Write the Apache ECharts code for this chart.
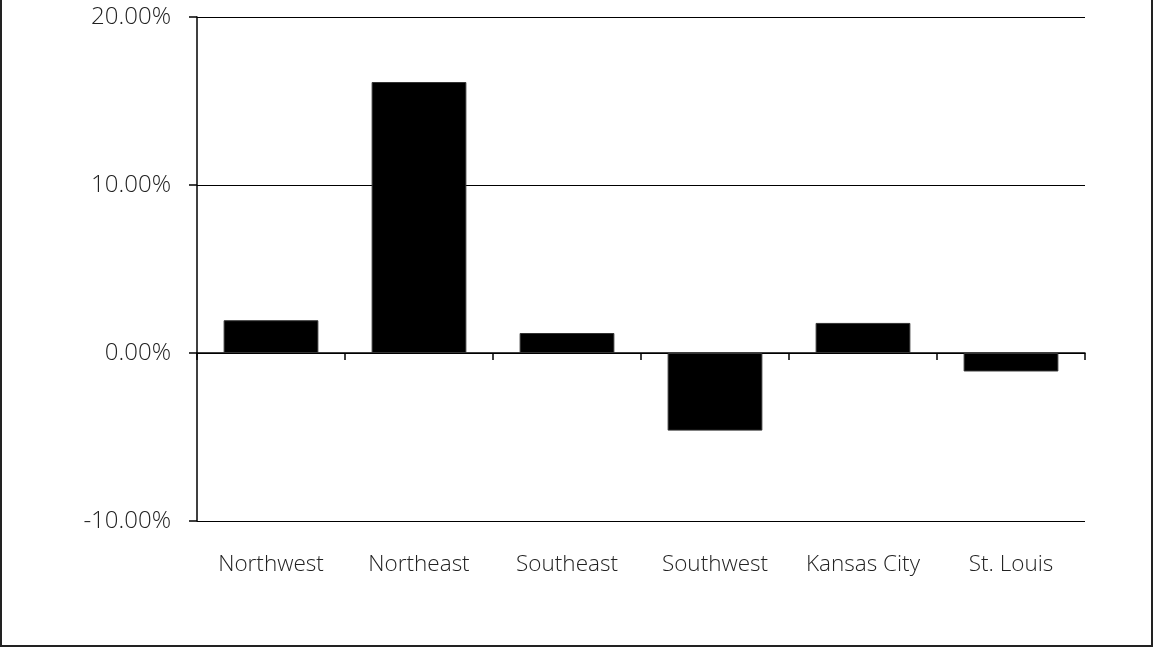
<!DOCTYPE html>
<html>
<head>
<meta charset="utf-8">
<script src="https://cdn.jsdelivr.net/npm/echarts@6/dist/echarts.min.js"></script>
<style>
html,body{margin:0;padding:0;background:#fff;}
#wrap{position:absolute;left:0;top:0;width:1153px;height:647px;box-sizing:border-box;border-left:2px solid #222;border-right:2px solid #222;border-bottom:2px solid #222;}
#chart{position:absolute;left:0;top:0;width:1153px;height:647px;}
</style>
</head>
<body>
<div id="wrap"></div>
<div id="chart"></div>
<script>
const categories = ['Northwest', 'Northeast', 'Southeast', 'Southwest', 'Kansas City', 'St. Louis'];
const values = [1.95, 16.13, 1.19, -4.62, 1.79, -1.10];
const yTicks = { min: -10, max: 20, interval: 10 };

const FONT = '"Open Sans", "DejaVu Sans", sans-serif';
const chart = echarts.init(document.getElementById('chart'));
chart.setOption({
  animation: false,
  backgroundColor: 'transparent',
  grid: { left: 197, right: 68, top: 17, bottom: 126, containLabel: false },
  xAxis: [
    {
      type: 'category', data: categories, position: 'bottom',
      axisLine: { show: false, onZero: false }, axisTick: { show: false },
      axisLabel: { color: '#222', fontSize: 22.5, fontWeight: 300, fontFamily: FONT, margin: 32, interval: 0 }
    },
    {
      type: 'category', data: categories, position: 'top',
      axisLine: { show: true, onZero: true, lineStyle: { color: '#000', width: 1.5 } },
      axisTick: { show: true, inside: true, length: 7, interval: 0, alignWithLabel: false, lineStyle: { color: '#000', width: 1.5 } },
      axisLabel: { show: false }
    }
  ],
  yAxis: {
    type: 'value', min: yTicks.min, max: yTicks.max, interval: yTicks.interval,
    axisLine: { show: true, onZero: false, lineStyle: { color: '#000', width: 1.5 } },
    axisTick: { show: true, length: 8, lineStyle: { color: '#000', width: 1.5 } },
    splitLine: { show: true, lineStyle: { color: '#000', width: 1.2 } },
    axisLabel: { color: '#222', fontSize: 24, fontWeight: 300, fontFamily: FONT, margin: 26,
      padding: [3, 0, 0, 0],
      formatter: v => v.toFixed(2) + '%' }
  },
  series: [{
    type: 'bar', data: values, xAxisIndex: 0,
    barCategoryGap: '36%',
    itemStyle: { color: '#000', borderColor: '#333', borderWidth: 1 }
  }]
});
</script>
</body>
</html>
